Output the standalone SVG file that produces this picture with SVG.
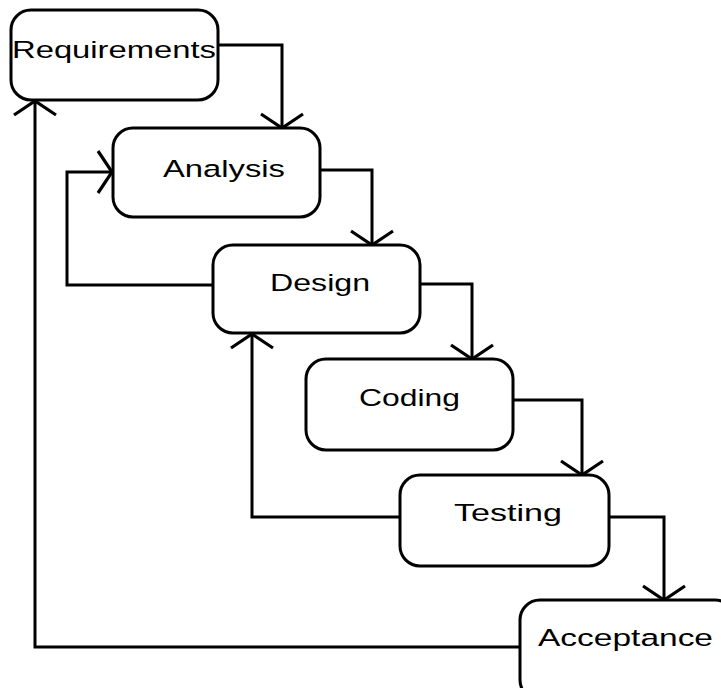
<svg xmlns="http://www.w3.org/2000/svg" width="721" height="688" viewBox="0 0 721 688">
<style>
.box{fill:#fff;stroke:#000;stroke-width:3}
.lbl{font-family:"Liberation Sans",Arial,sans-serif;font-size:24.5px;fill:#000}
.conn{fill:none;stroke:#000;stroke-width:3}
</style>
<defs>
<marker id="arr" markerUnits="userSpaceOnUse" viewBox="-16 -24 20 48" refX="0" refY="0" markerWidth="20" markerHeight="48" orient="auto" overflow="visible">
<path d="M -14 -21 L 0 0 L -14 21" fill="none" stroke="#000" stroke-width="3.2"/>
</marker>
</defs>
<rect width="721" height="688" fill="#fff"/>
<g id="connectors">
<path class="conn" d="M 218 45 H 282 V 128" marker-end="url(#arr)"/>
<path class="conn" d="M 320 170 H 372 V 245" marker-end="url(#arr)"/>
<path class="conn" d="M 420 284 H 472 V 359" marker-end="url(#arr)"/>
<path class="conn" d="M 513 400 H 582 V 475" marker-end="url(#arr)"/>
<path class="conn" d="M 609 517 H 664 V 600" marker-end="url(#arr)"/>
<path class="conn" d="M 213 285 H 67 V 172 H 112" marker-end="url(#arr)"/>
<path class="conn" d="M 400 517 H 252 V 334" marker-end="url(#arr)"/>
<path class="conn" d="M 520 647 H 35 V 101" marker-end="url(#arr)"/>
</g>
<g id="requirements">
<rect class="box" x="11" y="10" width="207" height="90" rx="20"/>
<text class="lbl" x="12" y="58" textLength="204" lengthAdjust="spacingAndGlyphs">Requirements</text>
</g>
<g id="analysis">
<rect class="box" x="113" y="128" width="207" height="89" rx="20"/>
<text class="lbl" x="163" y="177" textLength="122" lengthAdjust="spacingAndGlyphs">Analysis</text>
</g>
<g id="design">
<rect class="box" x="213" y="245" width="207" height="88" rx="20"/>
<text class="lbl" x="270" y="291" textLength="100" lengthAdjust="spacingAndGlyphs">Design</text>
</g>
<g id="coding">
<rect class="box" x="306" y="359" width="207" height="91" rx="20"/>
<text class="lbl" x="359" y="406" textLength="101" lengthAdjust="spacingAndGlyphs">Coding</text>
</g>
<g id="testing">
<rect class="box" x="400" y="475" width="209" height="91" rx="20"/>
<text class="lbl" x="454" y="521" textLength="108" lengthAdjust="spacingAndGlyphs">Testing</text>
</g>
<g id="acceptance">
<rect class="box" x="520" y="600" width="215" height="100" rx="20"/>
<text class="lbl" x="538" y="646" textLength="175" lengthAdjust="spacingAndGlyphs">Acceptance</text>
</g>
</svg>
